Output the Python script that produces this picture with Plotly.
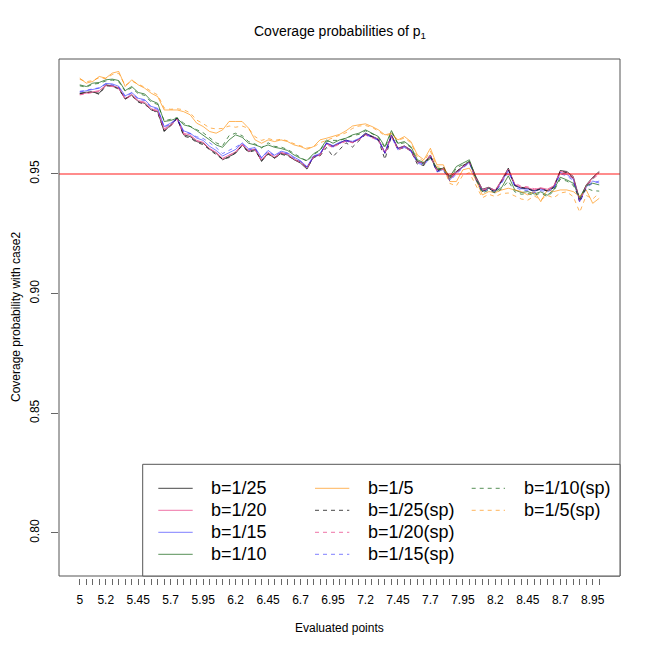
import plotly.graph_objects as go

# ---------------- data ----------------
EVAL_POINTS = [5.00, 5.05, 5.10, 5.15, 5.20, 5.25, 5.30, 5.35, 5.40, 5.45,
               5.50, 5.55, 5.60, 5.65, 5.70, 5.75, 5.80, 5.85, 5.90, 5.95,
               6.00, 6.05, 6.10, 6.15, 6.20, 6.25, 6.30, 6.35, 6.40, 6.45,
               6.50, 6.55, 6.60, 6.65, 6.70, 6.75, 6.80, 6.85, 6.90, 6.95,
               7.00, 7.05, 7.10, 7.15, 7.20, 7.25, 7.30, 7.35, 7.40, 7.45,
               7.50, 7.55, 7.60, 7.65, 7.70, 7.75, 7.80, 7.85, 7.90, 7.95,
               8.00, 8.05, 8.10, 8.15, 8.20, 8.25, 8.30, 8.35, 8.40, 8.45,
               8.50, 8.55, 8.60, 8.65, 8.70, 8.75, 8.80, 8.85, 8.90, 8.95,
               9.00]

X_TICK_LABELS = ["5", "5.2", "5.45", "5.7", "5.95", "6.2", "6.45", "6.7", "6.95",
                 "7.2", "7.45", "7.7", "7.95", "8.2", "8.45", "8.7", "8.95"]
Y_TICKS = [0.80, 0.85, 0.90, 0.95]
Y_TICK_LABELS = ["0.80", "0.85", "0.90", "0.95"]
NOMINAL = 0.95

b25 = [0.9837, 0.9841, 0.9841, 0.9837, 0.9872, 0.9868, 0.9858, 0.9812, 0.9830, 0.9802,
       0.9795, 0.9767, 0.9760, 0.9677, 0.9705, 0.9733, 0.9663, 0.9656, 0.9635, 0.9628,
       0.9603, 0.9586, 0.9559, 0.9572, 0.9586, 0.9621, 0.9593, 0.9603, 0.9552, 0.9586,
       0.9565, 0.9586, 0.9579, 0.9559, 0.9545, 0.9520, 0.9572, 0.9579, 0.9628, 0.9615,
       0.9630, 0.9642, 0.9631, 0.9645, 0.9670, 0.9659, 0.9645, 0.9586, 0.9663, 0.9607,
       0.9617, 0.9600, 0.9552, 0.9545, 0.9579, 0.9517, 0.9524, 0.9489, 0.9510, 0.9531,
       0.9552, 0.9489, 0.9436, 0.9444, 0.9430, 0.9475, 0.9524, 0.9454, 0.9440, 0.9440,
       0.9430, 0.9440, 0.9430, 0.9447, 0.9514, 0.9510, 0.9489, 0.9391, 0.9454, 0.9486,
       0.9510]

b20 = [0.9832, 0.9838, 0.9845, 0.9848, 0.9870, 0.9868, 0.9860, 0.9815, 0.9832, 0.9806,
       0.9800, 0.9772, 0.9765, 0.9688, 0.9705, 0.9730, 0.9670, 0.9662, 0.9640, 0.9632,
       0.9606, 0.9590, 0.9565, 0.9580, 0.9592, 0.9624, 0.9598, 0.9604, 0.9558, 0.9590,
       0.9570, 0.9590, 0.9582, 0.9562, 0.9550, 0.9526, 0.9572, 0.9580, 0.9626, 0.9614,
       0.9628, 0.9638, 0.9632, 0.9644, 0.9666, 0.9656, 0.9644, 0.9588, 0.9660, 0.9606,
       0.9616, 0.9598, 0.9552, 0.9544, 0.9578, 0.9516, 0.9522, 0.9484, 0.9508, 0.9530,
       0.9550, 0.9486, 0.9434, 0.9442, 0.9432, 0.9474, 0.9520, 0.9456, 0.9444, 0.9442,
       0.9434, 0.9442, 0.9436, 0.9450, 0.9510, 0.9506, 0.9486, 0.9388, 0.9452, 0.9484,
       0.9506]

b15 = [0.9842, 0.9848, 0.9852, 0.9858, 0.9878, 0.9876, 0.9866, 0.9826, 0.9840, 0.9816,
       0.9810, 0.9782, 0.9774, 0.9698, 0.9712, 0.9733, 0.9680, 0.9670, 0.9650, 0.9640,
       0.9615, 0.9598, 0.9575, 0.9590, 0.9602, 0.9630, 0.9605, 0.9610, 0.9568, 0.9598,
       0.9578, 0.9595, 0.9588, 0.9570, 0.9555, 0.9530, 0.9575, 0.9585, 0.9630, 0.9618,
       0.9632, 0.9640, 0.9636, 0.9648, 0.9668, 0.9656, 0.9642, 0.9590, 0.9660, 0.9606,
       0.9614, 0.9598, 0.9550, 0.9540, 0.9575, 0.9512, 0.9518, 0.9475, 0.9505, 0.9528,
       0.9548, 0.9482, 0.9430, 0.9440, 0.9428, 0.9468, 0.9515, 0.9452, 0.9438, 0.9436,
       0.9428, 0.9436, 0.9430, 0.9442, 0.9505, 0.9498, 0.9478, 0.9385, 0.9445, 0.9470,
       0.9462]

b10 = [0.9872, 0.9865, 0.9879, 0.9882, 0.9893, 0.9896, 0.9890, 0.9848, 0.9865, 0.9840,
       0.9834, 0.9806, 0.9795, 0.9719, 0.9723, 0.9733, 0.9705, 0.9698, 0.9681, 0.9663,
       0.9642, 0.9621, 0.9611, 0.9642, 0.9663, 0.9653, 0.9628, 0.9621, 0.9611, 0.9621,
       0.9611, 0.9606, 0.9598, 0.9579, 0.9565, 0.9556, 0.9584, 0.9600, 0.9642, 0.9628,
       0.9642, 0.9649, 0.9663, 0.9670, 0.9684, 0.9670, 0.9656, 0.9614, 0.9681, 0.9628,
       0.9635, 0.9614, 0.9559, 0.9547, 0.9570, 0.9524, 0.9520, 0.9489, 0.9531, 0.9545,
       0.9559, 0.9486, 0.9426, 0.9440, 0.9426, 0.9444, 0.9492, 0.9433, 0.9422, 0.9426,
       0.9416, 0.9425, 0.9411, 0.9433, 0.9486, 0.9475, 0.9461, 0.9402, 0.9450, 0.9461,
       0.9454]

b5 = [0.9900, 0.9879, 0.9886, 0.9907, 0.9900, 0.9921, 0.9928, 0.9865, 0.9893, 0.9872,
      0.9858, 0.9837, 0.9823, 0.9767, 0.9767, 0.9767, 0.9760, 0.9747, 0.9712, 0.9698,
      0.9677, 0.9670, 0.9684, 0.9719, 0.9719, 0.9719, 0.9691, 0.9642, 0.9628, 0.9642,
      0.9635, 0.9642, 0.9635, 0.9621, 0.9614, 0.9603, 0.9614, 0.9642, 0.9649, 0.9656,
      0.9665, 0.9680, 0.9700, 0.9705, 0.9709, 0.9698, 0.9684, 0.9663, 0.9670, 0.9642,
      0.9656, 0.9635, 0.9579, 0.9559, 0.9607, 0.9538, 0.9538, 0.9468, 0.9468, 0.9517,
      0.9524, 0.9475, 0.9412, 0.9426, 0.9422, 0.9433, 0.9440, 0.9433, 0.9426, 0.9412,
      0.9426, 0.9384, 0.9433, 0.9426, 0.9433, 0.9433, 0.9426, 0.9405, 0.9433, 0.9377,
      0.9398]

b25_sp = [0.9835, 0.9838, 0.9844, 0.9832, 0.9868, 0.9866, 0.9854, 0.9815, 0.9826, 0.9800,
          0.9790, 0.9770, 0.9755, 0.9680, 0.9700, 0.9733, 0.9658, 0.9650, 0.9632, 0.9622,
          0.9600, 0.9580, 0.9562, 0.9568, 0.9590, 0.9616, 0.9590, 0.9598, 0.9556, 0.9582,
          0.9568, 0.9582, 0.9575, 0.9562, 0.9548, 0.9525, 0.9568, 0.9575, 0.9610, 0.9572,
          0.9600, 0.9630, 0.9612, 0.9640, 0.9665, 0.9655, 0.9640, 0.9560, 0.9660, 0.9600,
          0.9612, 0.9595, 0.9540, 0.9535, 0.9575, 0.9508, 0.9530, 0.9478, 0.9505, 0.9535,
          0.9550, 0.9480, 0.9428, 0.9438, 0.9425, 0.9470, 0.9518, 0.9450, 0.9445, 0.9438,
          0.9426, 0.9438, 0.9428, 0.9442, 0.9512, 0.9505, 0.9482, 0.9382, 0.9448, 0.9480,
          0.9505]

b20_sp = [0.9830, 0.9836, 0.9842, 0.9845, 0.9866, 0.9865, 0.9856, 0.9812, 0.9828, 0.9802,
          0.9796, 0.9768, 0.9762, 0.9685, 0.9700, 0.9728, 0.9665, 0.9660, 0.9638, 0.9630,
          0.9604, 0.9588, 0.9562, 0.9578, 0.9590, 0.9620, 0.9595, 0.9600, 0.9555, 0.9588,
          0.9568, 0.9588, 0.9580, 0.9560, 0.9548, 0.9524, 0.9570, 0.9578, 0.9622, 0.9610,
          0.9625, 0.9636, 0.9630, 0.9642, 0.9662, 0.9652, 0.9640, 0.9585, 0.9656, 0.9602,
          0.9612, 0.9595, 0.9548, 0.9540, 0.9575, 0.9512, 0.9520, 0.9480, 0.9505, 0.9528,
          0.9548, 0.9482, 0.9430, 0.9440, 0.9430, 0.9470, 0.9500, 0.9462, 0.9448, 0.9446,
          0.9438, 0.9440, 0.9432, 0.9446, 0.9505, 0.9500, 0.9480, 0.9385, 0.9448, 0.9478,
          0.9500]

b15_sp = [0.9845, 0.9850, 0.9855, 0.9860, 0.9875, 0.9872, 0.9862, 0.9822, 0.9838, 0.9812,
          0.9806, 0.9778, 0.9770, 0.9695, 0.9708, 0.9728, 0.9675, 0.9668, 0.9655, 0.9648,
          0.9630, 0.9610, 0.9585, 0.9598, 0.9612, 0.9628, 0.9600, 0.9606, 0.9565, 0.9595,
          0.9575, 0.9590, 0.9585, 0.9566, 0.9552, 0.9528, 0.9570, 0.9582, 0.9628, 0.9612,
          0.9628, 0.9636, 0.9632, 0.9645, 0.9664, 0.9652, 0.9640, 0.9586, 0.9655, 0.9600,
          0.9610, 0.9594, 0.9545, 0.9536, 0.9570, 0.9508, 0.9515, 0.9470, 0.9500, 0.9525,
          0.9545, 0.9476, 0.9425, 0.9435, 0.9422, 0.9462, 0.9510, 0.9446, 0.9432, 0.9430,
          0.9422, 0.9430, 0.9425, 0.9438, 0.9500, 0.9492, 0.9472, 0.9380, 0.9440, 0.9462,
          0.9470]

b10_sp = [0.9868, 0.9862, 0.9875, 0.9878, 0.9888, 0.9892, 0.9885, 0.9845, 0.9860, 0.9835,
          0.9828, 0.9800, 0.9790, 0.9722, 0.9728, 0.9735, 0.9712, 0.9700, 0.9685, 0.9672,
          0.9650, 0.9630, 0.9618, 0.9660, 0.9670, 0.9660, 0.9635, 0.9625, 0.9608, 0.9630,
          0.9615, 0.9612, 0.9602, 0.9585, 0.9570, 0.9552, 0.9580, 0.9598, 0.9635, 0.9640,
          0.9640, 0.9648, 0.9660, 0.9665, 0.9680, 0.9668, 0.9652, 0.9608, 0.9676, 0.9624,
          0.9630, 0.9610, 0.9552, 0.9540, 0.9565, 0.9520, 0.9515, 0.9480, 0.9525, 0.9540,
          0.9552, 0.9478, 0.9420, 0.9432, 0.9420, 0.9438, 0.9470, 0.9425, 0.9415, 0.9418,
          0.9410, 0.9420, 0.9405, 0.9428, 0.9478, 0.9470, 0.9452, 0.9395, 0.9440, 0.9430,
          0.9428]

b5_sp = [0.9895, 0.9885, 0.9890, 0.9902, 0.9898, 0.9915, 0.9920, 0.9870, 0.9888, 0.9876,
         0.9862, 0.9845, 0.9830, 0.9775, 0.9770, 0.9772, 0.9768, 0.9755, 0.9725, 0.9710,
         0.9692, 0.9688, 0.9690, 0.9700, 0.9695, 0.9700, 0.9690, 0.9655, 0.9640, 0.9648,
         0.9640, 0.9645, 0.9638, 0.9626, 0.9618, 0.9608, 0.9612, 0.9630, 0.9640, 0.9650,
         0.9660, 0.9672, 0.9690, 0.9700, 0.9702, 0.9695, 0.9678, 0.9660, 0.9665, 0.9640,
         0.9650, 0.9630, 0.9570, 0.9552, 0.9595, 0.9530, 0.9525, 0.9460, 0.9450, 0.9495,
         0.9505, 0.9455, 0.9400, 0.9415, 0.9405, 0.9418, 0.9420, 0.9408, 0.9395, 0.9390,
         0.9408, 0.9392, 0.9410, 0.9400, 0.9420, 0.9425, 0.9405, 0.9340, 0.9410, 0.9395,
         0.9420]

SERIES_NAMES = ["b=1/25", "b=1/20", "b=1/15", "b=1/10", "b=1/5",
                "b=1/25(sp)", "b=1/20(sp)", "b=1/15(sp)", "b=1/10(sp)", "b=1/5(sp)"]
SERIES_VALUES = [b25, b20, b15, b10, b5, b25_sp, b20_sp, b15_sp, b10_sp, b5_sp]

# ---------------- styles ----------------
C_BLACK = "rgba(0,0,0,0.72)"
C_PINK = "rgba(235,90,150,0.85)"
C_BLUE = "rgba(0,0,255,0.5)"
C_GREEN = "rgba(30,105,30,0.75)"
C_ORANGE = "rgba(255,140,0,0.65)"
SERIES_COLORS = [C_BLACK, C_PINK, C_BLUE, C_GREEN, C_ORANGE,
                 C_BLACK, C_PINK, C_BLUE, C_GREEN, C_ORANGE]
SERIES_DASH = ["solid"] * 5 + ["4px,4px"] * 5

FONT = "Liberation Sans, Arial, Helvetica, sans-serif"
W, H = 650, 650
PAGE_OFF = 8                         # default page body margin of the browser
# target (screen) geometry of the plot frame
SX0, SX1, SY0, SY1 = 59, 620, 59, 576
TICK_GAP = 2
L = SX0 - PAGE_OFF
T = SY0 - PAGE_OFF
R = W - (SX1 - PAGE_OFF)
B = H - (SY1 + TICK_GAP - PAGE_OFF)
PW, PH = W - L - R, H - T - B


def px(x):
    """screen pixel x -> paper fraction"""
    return (x - PAGE_OFF - L) / PW


def py(y):
    """screen pixel y -> paper fraction"""
    return (H - B - (y - PAGE_OFF)) / PH


fig = go.Figure()
for name, vals, col, dash in zip(SERIES_NAMES, SERIES_VALUES, SERIES_COLORS, SERIES_DASH):
    fig.add_trace(go.Scatter(x=EVAL_POINTS, y=vals, mode="lines", name=name,
                             line=dict(color=col, width=1, dash=dash),
                             showlegend=False))

# x tick labels: only those that fit
label_lookup = {float(s): s for s in X_TICK_LABELS}
x_ticktext = [label_lookup.get(round(v, 2), "") for v in EVAL_POINTS]

shapes = []
# nominal level line
shapes.append(dict(type="line", xref="x domain", yref="y", x0=0, x1=1,
                   y0=NOMINAL, y1=NOMINAL, line=dict(color="rgba(255,0,0,0.45)", width=2),
                   layer="above"))
# frame
shapes.append(dict(type="rect", xref="x domain", yref="y domain", x0=0, x1=1, y0=0, y1=1,
                   line=dict(color="#555555", width=1), layer="above"))

annotations = []
# legend (R style, 3 columns, filled column-wise)
LEG_BOX = (142.7, 464.3, 620, 576)
shapes.append(dict(type="rect", xref="paper", yref="paper",
                   x0=px(LEG_BOX[0]), x1=px(LEG_BOX[2]), y0=py(LEG_BOX[3]), y1=py(LEG_BOX[1]),
                   line=dict(color="#555555", width=1), fillcolor="white", layer="above"))
LEG_COLS = [(158.3, 192.7, 209.3), (315.0, 349.3, 366.0), (471.7, 505.0, 521.7)]
LEG_ROWS = [488.3, 510.3, 532.3, 554.3]
for k, (name, col, dash) in enumerate(zip(SERIES_NAMES, SERIES_COLORS, SERIES_DASH)):
    c, r = divmod(k, 4)
    x0, x1, xt = LEG_COLS[c]
    yy = LEG_ROWS[r]
    shapes.append(dict(type="line", xref="paper", yref="paper",
                       x0=px(x0), x1=px(x1), y0=py(yy), y1=py(yy),
                       line=dict(color=col, width=1, dash=dash), layer="above"))
    annotations.append(dict(xref="paper", yref="paper", x=px(xt), y=py(yy),
                            xanchor="left", yanchor="middle", text=name, showarrow=False,
                            font=dict(family=FONT, size=18, color="black")))

# titles
annotations.append(dict(xref="paper", yref="paper", x=px(339.5), y=py(32),
                        text="Coverage probabilities of p<sub>1</sub>", showarrow=False,
                        xanchor="center", yanchor="middle",
                        font=dict(family=FONT, size=14, color="black")))
annotations.append(dict(xref="paper", yref="paper", x=px(339.5), y=py(628),
                        text="Evaluated points", showarrow=False,
                        xanchor="center", yanchor="middle",
                        font=dict(family=FONT, size=12, color="black")))
annotations.append(dict(xref="paper", yref="paper", x=px(15.5), y=py(317.5),
                        text="Coverage probability with case2", showarrow=False,
                        textangle=-90, xanchor="center", yanchor="middle",
                        font=dict(family=FONT, size=12, color="black")))

fig.update_layout(
    width=W, height=H,
    margin=dict(l=L, r=R, t=T, b=B, pad=0),
    paper_bgcolor="white", plot_bgcolor="white",
    showlegend=False,
    font=dict(family=FONT, size=12, color="black"),
    xaxis=dict(range=[4.84, 9.16], tickvals=EVAL_POINTS, ticktext=x_ticktext,
               tickangle=0,
               ticks="outside", ticklen=6, tickwidth=1, tickcolor="#666666",
               showgrid=False, zeroline=False, showline=False,
               anchor="free", position=0, ticklabelstandoff=5,
               tickfont=dict(family=FONT, size=12, color="black")),
    yaxis=dict(range=[0.782, 0.998], domain=[TICK_GAP / PH, 1], tickvals=Y_TICKS,
               ticktext=Y_TICK_LABELS, ticks="outside", ticklen=7, tickwidth=1,
               tickcolor="#666666", tickangle=-90, ticklabelstandoff=7,
               showgrid=False, zeroline=False, showline=False,
               tickfont=dict(family=FONT, size=12, color="black")),
    shapes=shapes,
    annotations=annotations,
)

fig.write_html("out.html")
